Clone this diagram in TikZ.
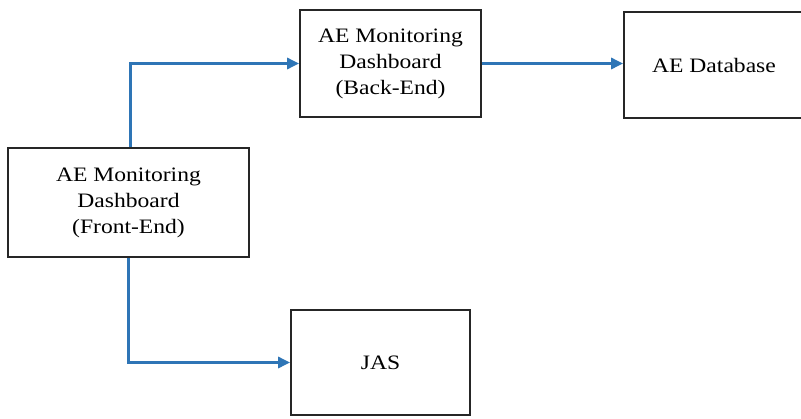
\documentclass[tikz,border=0pt]{standalone}
\usepackage{fontspec}
\setmainfont[FakeStretch=1.15]{Liberation Serif}
\usetikzlibrary{arrows.meta}
\definecolor{flowblue}{RGB}{46,117,182}
\begin{document}
\begin{tikzpicture}[x=1pt,y=-1pt,
  block/.style={draw=black!85,line width=1.8pt,rectangle,align=center,
    inner sep=0pt,font=\fontsize{20.5}{26}\selectfont},
  flow/.style={draw=flowblue,line width=3pt,
    -{Triangle[length=12pt,width=11pt]}}]
\useasboundingbox (0,0) rectangle (801,418);
\fill[white] (0,0) rectangle (801,418);

\node[block,minimum width=241pt,minimum height=109pt] (fe) at (128.5,202.5)
  {AE Monitoring\\Dashboard\\(Front-End)};
\node[block,minimum width=181pt,minimum height=107pt] (be) at (390.5,63.5)
  {AE Monitoring\\Dashboard\\(Back-End)};
\node[block,minimum width=180pt,minimum height=106pt] (db) at (714,65)
  {AE Database};
\node[block,minimum width=179pt,minimum height=105pt] (jas) at (380.5,362.5)
  {JAS};

\draw[flow] ([xshift=1.5pt]fe.north) |- (be.west);
\draw[flow] (be.east) -- (be.east -| db.west);
\draw[flow] (fe.south) |- (jas.west);
\end{tikzpicture}
\end{document}
